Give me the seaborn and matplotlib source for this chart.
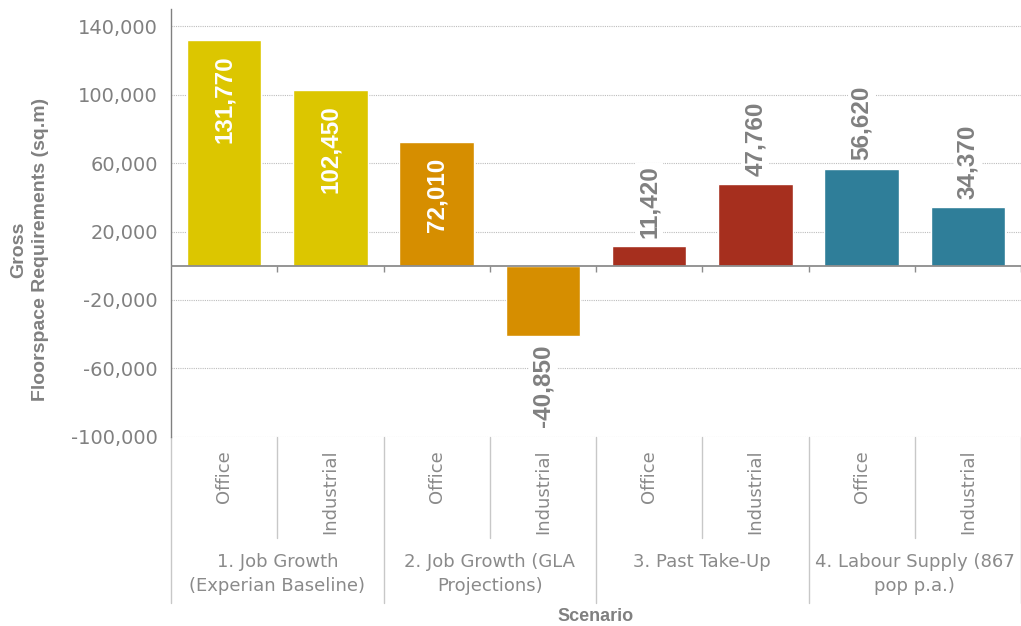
import matplotlib
import matplotlib.pyplot as plt
import numpy as np
import pandas as pd
import seaborn as sns

matplotlib.use("agg")

# data
scenarios = [
    "1. Job Growth\n(Experian Baseline)",
    "2. Job Growth (GLA\nProjections)",
    "3. Past Take-Up",
    "4. Labour Supply (867\npop p.a.)",
]
uses = ["Office", "Industrial"]
office = [131770, 72010, 11420, 56620]
industrial = [102450, -40850, 47760, 34370]
colors = ["#DCC600", "#D68E00", "#A62F1E", "#2F7E99"]
yticks = [140000, 100000, 60000, 20000, -20000, -60000, -100000]

rows = []
for i, s in enumerate(scenarios):
    rows.append({"key": f"{i}-Office", "scenario": s, "use": "Office", "value": office[i]})
    rows.append({"key": f"{i}-Industrial", "scenario": s, "use": "Industrial", "value": industrial[i]})
df = pd.DataFrame(rows)

sns.set_style("white")
plt.rcParams["font.family"] = ["Liberation Sans", "DejaVu Sans"]

grey = "#808080"
light = "#8a8a8a"

fig = plt.figure(figsize=(10.21, 6.26), dpi=100)
ax = fig.add_axes([0.1675, 0.302, 0.8325, 0.6837])

sns.barplot(
    data=df, x="key", y="value", hue="scenario", palette=colors,
    dodge=False, width=0.7, legend=False, ax=ax, saturation=1,
)

ax.set_xlim(-0.5, 7.5)
ax.set_ylim(-100000, 150000)
ax.set_yticks(yticks)
ax.set_yticklabels([f"{v:,}" for v in yticks], family="DejaVu Sans")
ax.tick_params(axis="y", colors=grey, length=6, labelsize=14, labelcolor=grey)
ax.set_xticks([])
ax.set_xlabel("")
ax.set_ylabel("")
ax.yaxis.grid(True, linestyle=(0, (1, 1)), color="#bdbdbd", lw=0.8)
ax.set_axisbelow(True)
for sp in ["top", "right", "bottom"]:
    ax.spines[sp].set_visible(False)
ax.spines["left"].set_color(grey)
ax.spines["left"].set_linewidth(1.0)

ax.axhline(0, color="#8c8c8c", lw=1.3, zorder=3)
ax.vlines(np.arange(0.5, 8, 1), -3500, 0, color="#8c8c8c", lw=1.0)

# value labels
for i, (key, v) in enumerate(zip(df["key"], df["value"])):
    txt = f"{v:,}"
    if v > 60000:
        ax.annotate(txt, (i, v), xytext=(0, -11), textcoords="offset points",
                    rotation=90, ha="center", va="top", color="white",
                    fontsize=17.5, fontweight="bold")
    elif v >= 0:
        ax.annotate(txt, (i, v), xytext=(0, 6), textcoords="offset points",
                    rotation=90, ha="center", va="bottom", color=grey,
                    fontsize=17.5, fontweight="bold",
                    bbox=dict(boxstyle="square,pad=0.1", fc="white", ec="none"))
    else:
        ax.annotate(txt, (i, v), xytext=(0, -6), textcoords="offset points",
                    rotation=90, ha="center", va="top", color=grey,
                    fontsize=17.5, fontweight="bold",
                    bbox=dict(boxstyle="square,pad=0.1", fc="white", ec="none"))

# two-level category axis
tr = ax.get_xaxis_transform()
for i in range(8):
    ax.text(i, -0.03, df["use"][i], transform=tr, rotation=90, ha="center",
            va="top", fontsize=13, color=light, family="DejaVu Sans", clip_on=False)
for b in [0.5, 2.5, 4.5, 6.5]:
    ax.plot([b, b], [0, -0.236], transform=tr, color="#c8c8c8", lw=1.0, clip_on=False)
for b in [-0.5, 1.5, 3.5, 5.5, 7.5]:
    ax.plot([b, b], [0, -0.388], transform=tr, color="#c8c8c8", lw=1.0, clip_on=False)
for g, s in enumerate(scenarios):
    ax.text(2 * g + 0.5, -0.272, s, transform=tr, ha="center", va="top",
            fontsize=13, color=light, family="DejaVu Sans", linespacing=1.4,
            clip_on=False)

ax.text(0.5, -0.42, "Scenario", transform=ax.transAxes, ha="center", va="center",
        fontsize=13, fontweight="bold", color=grey)
fig.text(0.029, 0.601, "Gross\nFloorspace Requirements (sq.m)", rotation=90,
         ha="center", va="center", multialignment="center", fontsize=14,
         fontweight="bold", color=grey, linespacing=1.4)

fig.savefig("out.png", dpi=100)
